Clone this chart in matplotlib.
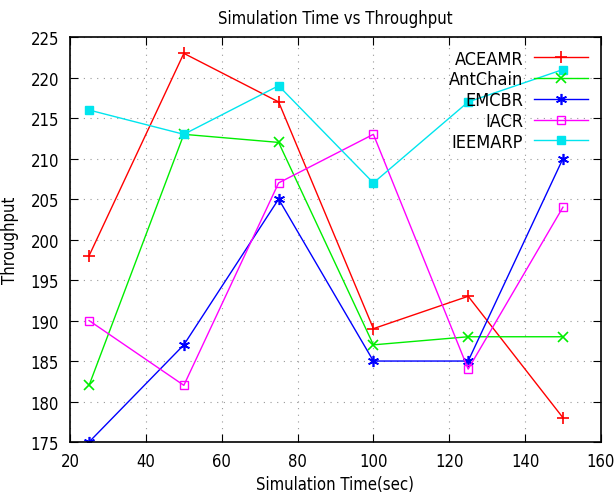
import matplotlib
matplotlib.use("Agg")
import matplotlib.pyplot as plt

x = [25, 50, 75, 100, 125, 150]
aceamr = [198, 223, 217, 189, 193, 178]
antchain = [182, 213, 212, 187, 188, 188]
emcbr = [175, 187, 205, 185, 185, 210]
iacr = [190, 182, 207, 213, 184, 204]
ieemarp = [216, 213, 219, 207, 217, 221]

plt.rcParams['font.family'] = ['DejaVu Sans']
plt.rcParams['font.stretch'] = 'condensed'

fig = plt.figure(figsize=(6.15, 5.02), dpi=100)
ax = fig.add_axes([0.114, 0.1175, 0.863, 0.8065])

ax.plot(x, aceamr, color='#ff0000', marker='+', ms=9, mew=1.2, lw=1, label='ACEAMR')
ax.plot(x, antchain, color='#00ee00', marker='x', ms=7, mew=1.2, lw=1, label='AntChain')
ax.plot(x, emcbr, color='#0000ff', marker=(6, 2, 0), ms=8, mew=1.2, lw=1, label='EMCBR')
ax.plot(x, iacr, color='#ff00ff', marker='s', ms=6, mfc='none', mew=1, lw=1, label='IACR')
ax.plot(x, ieemarp, color='#00e5ee', marker='s', ms=6, lw=1, label='IEEMARP')

ax.set_xlim(20, 160)
ax.set_ylim(175, 225)
ax.set_xticks(range(20, 161, 20))
ax.set_yticks(range(175, 226, 5))
ax.tick_params(direction='in', top=True, right=True, labelsize=12, length=6)
ax.tick_params(axis='y', pad=8)
ax.tick_params(axis='x', pad=7)
ax.grid(True, linestyle=(0, (1, 5)), color='#999999', lw=0.8)
for s in ax.spines.values():
    s.set_linewidth(1.2)

ax.set_title('Simulation Time vs Throughput', fontsize=12, pad=10)
ax.set_xlabel('Simulation Time(sec)', fontsize=12)
ax.set_ylabel('Throughput', fontsize=12, labelpad=8)

leg = ax.legend(loc='upper right', frameon=False, markerfirst=False, fontsize=13,
                handlelength=3, labelspacing=0.15, borderaxespad=0.3, handletextpad=0.6)
for t in leg.get_texts():
    t.set_ha('right')

fig.savefig('out.png', dpi=100)
